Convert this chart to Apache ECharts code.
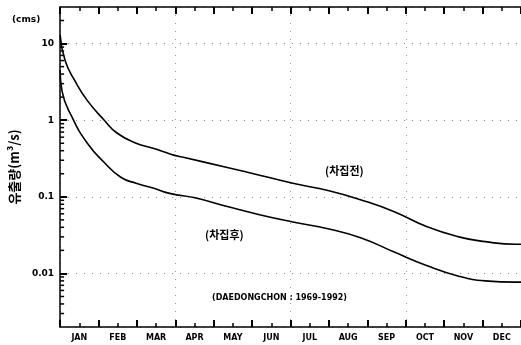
<!DOCTYPE html>
<html>
<head>
<meta charset="utf-8">
<script src="https://cdn.jsdelivr.net/npm/echarts@6/dist/echarts.min.js"></script>
<style>
  html, body { margin: 0; padding: 0; background: #fff; }
  #chart { width: 521px; height: 345px; }
</style>
</head>
<body>
<div id="chart"></div>
<script>
// month labels (x axis, centred in each month)
var months = ['JAN', 'FEB', 'MAR', 'APR', 'MAY', 'JUN', 'JUL', 'AUG', 'SEP', 'OCT', 'NOV', 'DEC'];

// before interception (차집전): position in months from 1 Jan, flow in m3/s
var upperMonths = [0, 0.13, 0.38, 0.71, 1.15, 1.48, 1.98, 2.42, 2.88, 3.18, 4.38, 5.22, 6.06, 7.0, 7.84, 8.7, 9.54, 10.38, 11.07, 11.86, 12];
var upperFlow   = [13, 6.0, 3.3, 1.8, 1.0, 0.68, 0.50, 0.43, 0.36, 0.33, 0.24, 0.19, 0.15, 0.12, 0.091, 0.064, 0.041, 0.030, 0.026, 0.024, 0.024];

// after interception (차집후)
var lowerMonths = [0, 0.05, 0.31, 0.71, 1.15, 1.58, 1.98, 2.42, 2.88, 3.51, 4.38, 5.22, 6.06, 7.0, 7.84, 8.7, 9.54, 10.38, 11.07, 11.86, 12];
var lowerFlow   = [4.5, 2.4, 1.1, 0.5, 0.28, 0.18, 0.15, 0.13, 0.11, 0.097, 0.074, 0.058, 0.047, 0.038, 0.029, 0.019, 0.0127, 0.0092, 0.0080, 0.0077, 0.0077];

// y axis range and log minor ticks
var yMin = 0.002, yMax = 30;
var decades = [0.001, 0.01, 0.1, 1, 10];
var minorSteps = [2, 3, 4, 5, 6, 7, 8, 9];

function pairs(xs, ys) {
  return xs.map(function (x, i) { return [x, ys[i]]; });
}

var minorTicks = [];
decades.forEach(function (d) {
  minorSteps.forEach(function (k) {
    var v = +(k * d).toPrecision(3);
    if (v > yMin && v < yMax) minorTicks.push([0, v]);
  });
});

var labelFont = 'DejaVu Sans';

function frameAxis(pos) {
  return {
    type: 'value', min: 0, max: 12, interval: 1, position: pos,
    axisLine: { show: true, lineStyle: { color: '#000', width: 1.5 } },
    axisTick: { show: true, inside: true, length: 7, lineStyle: { color: '#000', width: 2 } },
    minorTick: { show: true, splitNumber: 2, length: 4, lineStyle: { color: '#000', width: 1.5 } },
    axisLabel: { show: false },
    splitLine: { show: false }
  };
}

var myChart = echarts.init(document.getElementById('chart'));
var option = {
  animation: false,
  backgroundColor: '#fff',
  grid: { left: 55, right: -5, top: 7, bottom: 18 },
  xAxis: [
    frameAxis('bottom'),
    frameAxis('top'),
    { // month names
      type: 'category', data: months, position: 'bottom', boundaryGap: true,
      axisLine: { show: false }, axisTick: { show: false },
      axisLabel: { color: '#000', fontFamily: labelFont, fontWeight: 'bold', fontSize: 8, margin: 7 },
      splitLine: { show: false }
    },
    { // sparse dotted vertical grid
      type: 'value', min: 0, max: 12, interval: 3, position: 'bottom',
      axisLine: { show: false }, axisTick: { show: false }, axisLabel: { show: false },
      splitLine: { show: true, lineStyle: { color: '#999', width: 1, type: [1, 7] } }
    }
  ],
  yAxis: {
    type: 'log', logBase: 10, min: yMin, max: yMax,
    name: '유출량(m³/s)', nameLocation: 'middle', nameGap: 32, nameRotate: 90,
    nameTextStyle: { color: '#000', fontFamily: 'Noto Sans CJK KR', fontWeight: 'bold', fontSize: 13 },
    axisLine: { show: true, lineStyle: { color: '#000', width: 1.5 } },
    axisTick: { show: true, inside: true, length: 7, lineStyle: { color: '#000', width: 2 } },
    axisLabel: {
      color: '#000', fontFamily: labelFont, fontWeight: 'bold', fontSize: 9, margin: 6,
      showMinLabel: false, showMaxLabel: false,
      formatter: function (v) { return String(+(+v).toPrecision(2)); }
    },
    splitLine: { show: true, lineStyle: { color: '#888', width: 1, type: [1, 7] } }
  },
  graphic: [
    { type: 'text', left: 12, top: 15,
      style: { text: '(cms)', fill: '#000', font: 'bold 9px "DejaVu Sans"' } },
    { type: 'text', left: 325, top: 165,
      style: { text: '(차집전)', fill: '#000', font: 'bold 11px "Noto Sans CJK KR"' } },
    { type: 'text', left: 205, top: 229,
      style: { text: '(차집후)', fill: '#000', font: 'bold 11px "Noto Sans CJK KR"' } },
    { type: 'text', left: 212, top: 294,
      style: { text: '(DAEDONGCHON : 1969-1992)', fill: '#000', font: 'bold 8px "DejaVu Sans"' } }
  ],
  series: [
    {
      name: '차집전', type: 'line', xAxisIndex: 0,
      data: pairs(upperMonths, upperFlow),
      smooth: 0.5, showSymbol: false,
      lineStyle: { color: '#000', width: 1.6 }
    },
    {
      name: '차집후', type: 'line', xAxisIndex: 0,
      data: pairs(lowerMonths, lowerFlow),
      smooth: 0.5, showSymbol: false,
      lineStyle: { color: '#000', width: 1.6 }
    },
    {
      name: 'minor ticks', type: 'custom', xAxisIndex: 0,
      data: minorTicks, silent: true,
      renderItem: function (params, api) {
        var p = api.coord([api.value(0), api.value(1)]);
        return {
          type: 'line',
          shape: { x1: p[0], y1: p[1], x2: p[0] + 4, y2: p[1] },
          style: { stroke: '#000', lineWidth: 1.5 }
        };
      }
    }
  ]
};

myChart.setOption(option);
</script>
</body>
</html>
